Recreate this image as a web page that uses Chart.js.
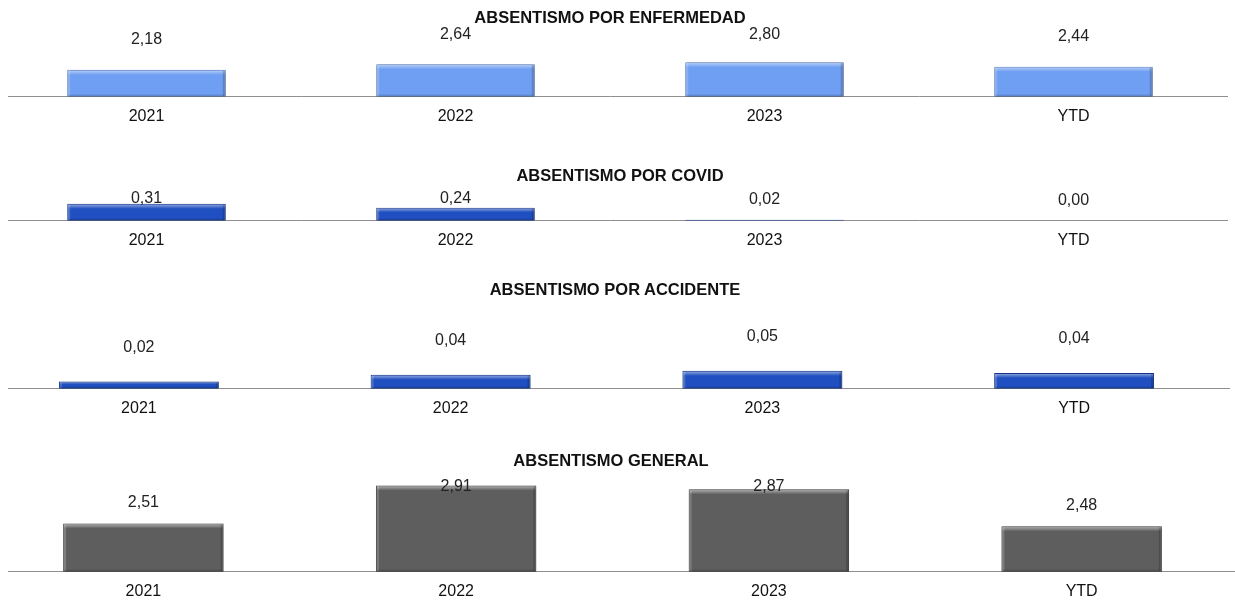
<!DOCTYPE html>
<html>
<head>
<meta charset="utf-8">
<script src="https://cdn.jsdelivr.net/npm/chart.js@4.4.0/dist/chart.umd.min.js"></script>
<style>
  html, body { margin: 0; padding: 0; background: #fff; width: 1235px; height: 601px; overflow: hidden; }
  body { position: relative; font-family: "Liberation Sans", Arial, sans-serif; }
  .title { position: absolute; width: 800px; text-align: center; font-weight: bold; font-size: 16.5px; line-height: 20px; color: #111; z-index: 2; }
  .wrap { position: absolute; left: 8px; width: 1227px; overflow: hidden; }
  .wrap canvas { position: absolute; top: 0; }
</style>
</head>
<body>

<div class="title" style="left:210px; top:7px;">ABSENTISMO POR ENFERMEDAD</div>
<div class="title" style="left:220px; top:165px;">ABSENTISMO POR COVID</div>
<div class="title" style="left:215px; top:279px;">ABSENTISMO POR ACCIDENTE</div>
<div class="title" style="left:211px; top:450px;">ABSENTISMO GENERAL</div>

<div class="wrap" style="top:5px; height:131px;"><canvas id="c1" width="1236" height="131" style="left:-16px"></canvas></div>
<div class="wrap" style="top:136px; height:124px;"><canvas id="c2" width="1236" height="124" style="left:-16px"></canvas></div>
<div class="wrap" style="top:287px; height:141px;"><canvas id="c3" width="1247" height="141" style="left:-25px"></canvas></div>
<div class="wrap" style="top:447px; height:154px;"><canvas id="c4" width="1251" height="164" style="left:-21px"></canvas></div>

<script>
// datos
const categories = ['2021', '2022', '2023', 'YTD'];
const enfermedad = [2.18, 2.64, 2.80, 2.44];
const covid = [0.31, 0.24, 0.02, 0.00];
const accidente = [0.02, 0.039, 0.05, 0.044];
const general = [2.51, 2.91, 2.87, 2.48];

const FONT = '"Liberation Sans", Arial, sans-serif';

// relieve de las barras + etiquetas de valor
const bevel = {
    id: 'bevel',
    beforeDatasetsDraw(chart) {
        const ctx = chart.ctx;
        ctx.save();
        ctx.shadowColor = 'rgba(0,0,0,0.35)';
        ctx.shadowBlur = 3;
        ctx.shadowOffsetX = 1;
        ctx.shadowOffsetY = 1;
    },
    afterDatasetsDraw(chart, args, opts) {
        const ctx = chart.ctx;
        ctx.restore();
        const area = chart.chartArea;
        const meta = chart.getDatasetMeta(0);
        const values = chart.data.datasets[0].data;

        meta.data.forEach((bar, i) => {
            const p = bar.getProps(['x', 'y', 'base', 'width'], true);
            const left = p.x - p.width / 2;
            const top = Math.min(p.y, p.base);
            const bottom = Math.min(Math.max(p.y, p.base), area.bottom);
            const h = bottom - top;
            if (h >= 4) {
                const band = Math.min(5, h * 0.35);
                let g = ctx.createLinearGradient(0, top, 0, top + band);
                g.addColorStop(0, 'rgba(255,255,255,0.55)');
                g.addColorStop(1, 'rgba(255,255,255,0)');
                ctx.fillStyle = g;
                ctx.fillRect(left + 1, top + 1, p.width - 2, band);

                g = ctx.createLinearGradient(0, bottom - 3, 0, bottom);
                g.addColorStop(0, 'rgba(0,0,0,0)');
                g.addColorStop(1, 'rgba(0,0,0,0.25)');
                ctx.fillStyle = g;
                ctx.fillRect(left + 1, bottom - 3, p.width - 2, 3);

                ctx.fillStyle = 'rgba(255,255,255,0.18)';
                ctx.fillRect(left + 1, top + 1, 2, h - 2);
                ctx.fillStyle = 'rgba(0,0,0,0.18)';
                ctx.fillRect(left + p.width - 3, top + 1, 2, h - 2);
            }

            const ly = Math.max(p.y - opts.offset, area.top + opts.clamp);
            ctx.fillStyle = '#222';
            ctx.font = '16px ' + FONT;
            ctx.textAlign = 'center';
            ctx.textBaseline = 'middle';
            ctx.fillText(values[i].toFixed(2).replace('.', ','), p.x, ly);
        });
    }
};

function makeChart(id, values, cfg) {
    return new Chart(document.getElementById(id), {
        type: 'bar',
        data: {
            labels: categories,
            datasets: [{
                data: values,
                backgroundColor: cfg.fill,
                borderColor: cfg.edge,
                borderWidth: 1,
                barPercentage: 0.513,
                categoryPercentage: 1
            }]
        },
        options: {
            responsive: false,
            animation: false,
            events: [],
            layout: { padding: { top: 30, left: 0, right: 0, bottom: 0 } },
            plugins: {
                legend: { display: false },
                tooltip: { enabled: false },
                title: { display: false },
                bevel: { offset: cfg.offset, clamp: cfg.clamp }
            },
            scales: {
                x: {
                    offset: true,
                    grid: { display: false, drawTicks: false },
                    border: { display: true, color: '#8f8f8f', width: 1 },
                    ticks: {
                        color: '#111',
                        font: { family: FONT, size: 16 },
                        padding: 10,
                        maxRotation: 0,
                        autoSkip: false
                    }
                },
                y: { display: false, min: cfg.min, max: cfg.max }
            }
        },
        plugins: [bevel]
    });
}

makeChart('c1', enfermedad, { fill: '#6f9ff2', edge: '#5b80c9', min: 0, max: 5, offset: 30, clamp: 0 });
makeChart('c2', covid, { fill: '#1f4fc0', edge: '#173a8a', min: 0, max: 1, offset: 20, clamp: 33 });
makeChart('c3', accidente, { fill: '#1f4fc0', edge: '#173a8a', min: 0, max: 0.2, offset: 34, clamp: -100 });
makeChart('c4', general, { fill: '#5e5e5e', edge: '#444444', min: 2, max: 3, offset: 21, clamp: 10 });
</script>
</body>
</html>
